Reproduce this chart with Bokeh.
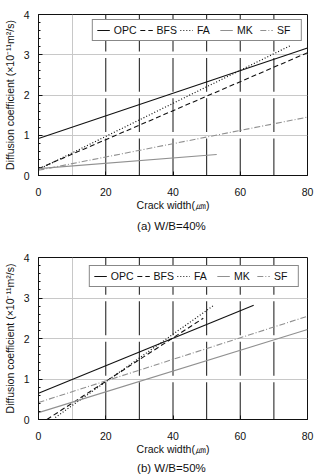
from bokeh.plotting import figure
from bokeh.models import Range1d, FixedTicker, Legend, LegendItem, Title
from bokeh.layouts import column
from bokeh.embed import file_html
from bokeh.resources import INLINE

# Crack width (um) vs. chloride diffusion coefficient (x10^-11 m^2/s):
# end points of the fitted lines for each binder.
series_names = ["OPC", "BFS", "FA", "MK", "SF"]

# W/B = 40 %
wb40_opc_x = [0, 80]
wb40_opc_y = [0.92, 3.17]
wb40_bfs_x = [0, 80]
wb40_bfs_y = [0.17, 3.05]
wb40_fa_x = [0, 75]
wb40_fa_y = [0.15, 3.23]
wb40_mk_x = [0, 53]
wb40_mk_y = [0.17, 0.52]
wb40_sf_x = [0, 80]
wb40_sf_y = [0.13, 1.45]

# W/B = 50 %
wb50_opc_x = [0, 64]
wb50_opc_y = [0.65, 2.82]
wb50_bfs_x = [2.5, 49]
wb50_bfs_y = [0.0, 2.5]
wb50_fa_x = [5, 52]
wb50_fa_y = [0.05, 2.81]
wb50_mk_x = [0, 80]
wb50_mk_y = [0.17, 2.22]
wb50_sf_x = [0, 80]
wb50_sf_y = [0.42, 2.55]

x_ticks = [0, 20, 40, 60, 80]
y_ticks = [0, 1, 2, 3, 4]
y_minor = [0.2, 0.4, 0.6, 0.8, 1.2, 1.4, 1.6, 1.8, 2.2, 2.4, 2.6, 2.8,
           3.2, 3.4, 3.6, 3.8]
light_grid_x = [10]
dark_grid_x = [20, 30, 40, 50, 60, 70]

styles = {
    "OPC": dict(line_color="#111111", line_dash="solid", line_width=1.1),
    "BFS": dict(line_color="#111111", line_dash="5 3", line_width=1.1),
    "FA": dict(line_color="#111111", line_dash="1 2", line_width=1.2),
    "MK": dict(line_color="#909090", line_dash="solid", line_width=1.1),
    "SF": dict(line_color="#909090", line_dash="6 2 1 2", line_width=1.1),
}

FONT = "Liberation Sans"


def make_panel(data, caption, height, top, right, bottom, legend_margin,
               caption_standoff):
    p = figure(width=314, height=height, output_backend="svg",
               toolbar_location=None,
               x_range=Range1d(0, 80), y_range=Range1d(0, 4),
               min_border_left=35, min_border_right=right,
               min_border_top=top, min_border_bottom=bottom)
    p.outline_line_color = "#111111"
    p.outline_line_width = 1
    p.background_fill_color = "white"

    # light grid lines
    p.xgrid.ticker = FixedTicker(ticks=light_grid_x)
    p.ygrid.ticker = FixedTicker(ticks=y_ticks[1:-1])
    for g in (p.xgrid, p.ygrid):
        g.grid_line_color = "#c8c8c8"
        g.grid_line_width = 1

    # dark vertical guide lines, broken where they cross the horizontal grid
    gap = 0.08
    x0s, y0s, x1s, y1s = [], [], [], []
    for gx in dark_grid_x:
        for lo, hi in zip(y_ticks[:-1], y_ticks[1:]):
            x0s.append(gx)
            x1s.append(gx)
            y0s.append(lo + (gap if lo > y_ticks[0] else 0))
            y1s.append(hi - (gap if hi < y_ticks[-1] else 0))
    p.segment(x0s, y0s, x1s, y1s, line_color="#2a2a2a", line_width=1.1)

    items = []
    for name in series_names:
        xs, ys = data[name]
        r = p.line(xs, ys, **styles[name])
        items.append(LegendItem(label=name, renderers=[r]))

    legend = Legend(items=items, orientation="horizontal",
                    location="top_right", margin=legend_margin,
                    label_text_font=FONT, label_text_font_size="10.5px",
                    label_text_color="#111111",
                    glyph_width=13, glyph_height=12, label_height=12,
                    label_standoff=4, spacing=3, padding=4,
                    border_line_color="#111111", border_line_width=1,
                    background_fill_color="white", background_fill_alpha=1)
    p.add_layout(legend, "center")

    p.xaxis.ticker = FixedTicker(ticks=x_ticks, minor_ticks=[])
    p.yaxis.ticker = FixedTicker(ticks=y_ticks, minor_ticks=y_minor)
    for ax in (p.xaxis, p.yaxis):
        ax.axis_line_color = "#111111"
        ax.major_tick_line_color = "#111111"
        ax.minor_tick_line_color = "#111111"
        ax.major_tick_in = 4
        ax.major_tick_out = 0
        ax.minor_tick_in = 2
        ax.minor_tick_out = 0
        ax.major_label_text_font = FONT
        ax.major_label_text_font_size = "10.5px"
        ax.major_label_text_color = "#111111"
        ax.axis_label_text_font = FONT
        ax.axis_label_text_font_style = "normal"
        ax.axis_label_text_color = "#111111"
    p.xaxis.major_label_standoff = 12
    p.yaxis.major_label_standoff = 9
    p.xaxis.axis_label = "Crack width(\u339b)"
    p.xaxis.axis_label_text_font_size = "10.5px"
    p.xaxis.axis_label_standoff = 0
    p.yaxis.axis_label = "Diffusion coefficient (\u00d710\u207b\u00b9\u00b9m\u00b2/s)"
    p.yaxis.axis_label_text_font_size = "10.5px"
    p.yaxis.axis_label_standoff = 5

    p.add_layout(Title(text=caption, align="center", text_font=FONT,
                       text_font_size="11.5px", text_font_style="normal",
                       text_color="#111111", standoff=caption_standoff),
                 "below")
    return p


data40 = {
    "OPC": (wb40_opc_x, wb40_opc_y),
    "BFS": (wb40_bfs_x, wb40_bfs_y),
    "FA": (wb40_fa_x, wb40_fa_y),
    "MK": (wb40_mk_x, wb40_mk_y),
    "SF": (wb40_sf_x, wb40_sf_y),
}
data50 = {
    "OPC": (wb50_opc_x, wb50_opc_y),
    "BFS": (wb50_bfs_x, wb50_bfs_y),
    "FA": (wb50_fa_x, wb50_fa_y),
    "MK": (wb50_mk_x, wb50_mk_y),
    "SF": (wb50_sf_x, wb50_sf_y),
}

p1 = make_panel(data40, "(a)  W/B=40%", 238, 14, 6, 63, 5, 8)
p2 = make_panel(data50, "(b)  W/B=50%", 238, 19, 7, 57, 8, 4)

layout = column(p1, p2, spacing=0)
open("out.html", "w").write(file_html(layout, INLINE))
